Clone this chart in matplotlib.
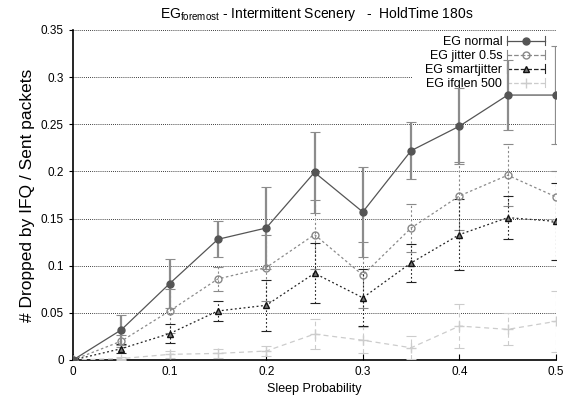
import matplotlib
matplotlib.use("Agg")
import matplotlib.pyplot as plt
from matplotlib.lines import Line2D
from matplotlib.patches import Rectangle
from matplotlib.legend_handler import HandlerBase

x = [0, 0.05, 0.1, 0.15, 0.2, 0.25, 0.3, 0.35, 0.4, 0.45, 0.5]
normal = [0, 0.032, 0.081, 0.128, 0.140, 0.199, 0.157, 0.222, 0.248, 0.281, 0.281]
normal_err = [0, 0.016, 0.026, 0.019, 0.043, 0.043, 0.048, 0.030, 0.040, 0.037, 0.052]
jitter = [0, 0.020, 0.052, 0.086, 0.098, 0.133, 0.090, 0.140, 0.174, 0.196, 0.173]
jitter_err = [0, 0.006, 0.023, 0.013, 0.035, 0.037, 0.035, 0.025, 0.036, 0.033, 0.027]
smart = [0, 0.012, 0.028, 0.052, 0.058, 0.092, 0.066, 0.103, 0.133, 0.151, 0.147]
smart_err = [0, 0.005, 0.010, 0.011, 0.027, 0.032, 0.030, 0.020, 0.038, 0.023, 0.041]
ifq = [0, 0.0015, 0.006, 0.007, 0.0095, 0.0275, 0.021, 0.013, 0.036, 0.0325, 0.041]
ifq_err = [0, 0.002, 0.004, 0.005, 0.005, 0.016, 0.014, 0.012, 0.023, 0.017, 0.032]

labels = ['EG normal', 'EG jitter 0.5s', 'EG smartjitter', 'EG ifqlen 500']
xticks = [0, 0.1, 0.2, 0.3, 0.4, 0.5]
xticklabels = ["0", "0.1", "0.2", "0.3", "0.4", "0.5"]
yticks = [0, 0.05, 0.1, 0.15, 0.2, 0.25, 0.3, 0.35]
yticklabels = ["0", "0.05", "0.1", "0.15", "0.2", "0.25", "0.3", "0.35"]

plt.rcParams['font.family'] = ['Liberation Sans', 'DejaVu Sans']


class CapLineHandler(HandlerBase):
    def create_artists(self, legend, orig, xdescent, ydescent, width, height,
                       fontsize, trans):
        y = height / 2 - ydescent
        x0, x1 = -xdescent, width - xdescent
        c = orig.get_color()
        ls = orig.get_linestyle()
        lw = orig.get_linewidth()
        h = 3.2
        line = Line2D([x0, x1], [y, y], color=c, ls=ls, lw=lw, transform=trans)
        capl = Line2D([x0, x0], [y - h, y + h], color=c, lw=0.8, transform=trans)
        capr = Line2D([x1, x1], [y - h, y + h], color=c, lw=0.8, transform=trans)
        mk = Line2D([(x0 + x1) / 2], [y], marker=orig.get_marker(),
                    markersize=orig.get_markersize(), mfc=orig.get_markerfacecolor(),
                    mec=orig.get_markeredgecolor(), ls='none', transform=trans)
        return [line, capl, capr, mk]


fig = plt.figure(figsize=(5.72, 3.96), dpi=100)
ax = fig.add_axes([73/572, 36/396, (556-73)/572, (360-30)/396])

for yv in yticks:
    ax.axhline(yv, color='black', lw=0.6, ls=(0, (1, 1.5)), zorder=0)

# white legend box background (covers grid only)
ax.add_patch(Rectangle((0.702, 0.76), 0.3, 0.2, transform=ax.transAxes,
                       facecolor='white', edgecolor='none', zorder=0.5, clip_on=False))

styles = [
    dict(color='#555555', ls='-', marker='o', ms=5, mfc='#555555', mec='#555555',
         ecolor='#8c8c8c', elw=1.6, els='-'),
    dict(color='#8a8a8a', ls=(0, (2, 2)), marker='o', ms=5, mfc='none', mec='#888888',
         ecolor='#8a8a8a', elw=0.8, els=(0, (2, 2))),
    dict(color='#222222', ls=(0, (1.5, 2)), marker='^', ms=5, mfc='#777777', mec='#111111',
         ecolor='#222222', elw=0.8, els=(0, (1.5, 2))),
    dict(color='#cccccc', ls=(0, (4, 3)), marker='+', ms=7, mfc='#cccccc', mec='#cccccc',
         ecolor='#cccccc', elw=0.8, els=(0, (4, 3))),
]
series = [(normal, normal_err), (jitter, jitter_err), (smart, smart_err), (ifq, ifq_err)]
zs = [5, 4, 4, 3]
handles = []
for (vals, errs), st, lab, z in zip(series, styles, labels, zs):
    capcol = '#555555' if st['ecolor'] == '#8c8c8c' else st['ecolor']
    eb = ax.errorbar(x, vals, yerr=errs, color=st['color'], ecolor=st['ecolor'],
                     elinewidth=st['elw'], capsize=3.5, capthick=0.8, lw=0.9,
                     ls=st['ls'], marker=st['marker'], markersize=st['ms'],
                     mfc=st['mfc'], mec=st['mec'], zorder=z)
    eb[2][0].set_linestyle(st['els'])
    for cap in eb[1]:
        cap.set_color(capcol)
    handles.append(Line2D([], [], color=st['color'], ls=st['ls'], lw=0.9,
                          marker=st['marker'], markersize=st['ms'],
                          mfc=st['mfc'], mec=st['mec']))

ax.set_xlim(0, 0.5)
ax.set_ylim(0, 0.35)
ax.set_xticks(xticks)
ax.set_xticklabels(xticklabels)
ax.set_yticks(yticks)
ax.set_yticklabels(yticklabels)
ax.tick_params(axis='x', direction='in', length=4, labelsize=8.5, pad=4)
ax.tick_params(axis='y', direction='out', length=3, labelsize=8.5)
ax.spines['top'].set_visible(False)
ax.spines['right'].set_visible(False)
ax.spines['left'].set_linewidth(1.2)
ax.spines['bottom'].set_linewidth(1.2)

ax.set_xlabel('Sleep Probability', fontsize=9, labelpad=4)
ax.set_ylabel('# Dropped by IFQ / Sent packets', fontsize=12.5, labelpad=4)
fig.text(0.553, 0.965, r'EG$_{\mathregular{foremost}}$ - Intermittent Scenery   -  HoldTime 180s',
         ha='center', va='center', fontsize=10)

leg = ax.legend(handles, labels, handler_map={Line2D: CapLineHandler()},
                loc='upper right', frameon=False, fontsize=9, markerfirst=False,
                handlelength=3.0, handletextpad=0.4, labelspacing=0.15,
                borderaxespad=0.5, borderpad=0.4, bbox_to_anchor=(1.0, 1.015))
leg.set_zorder(1)

fig.savefig('out.png', dpi=100)
